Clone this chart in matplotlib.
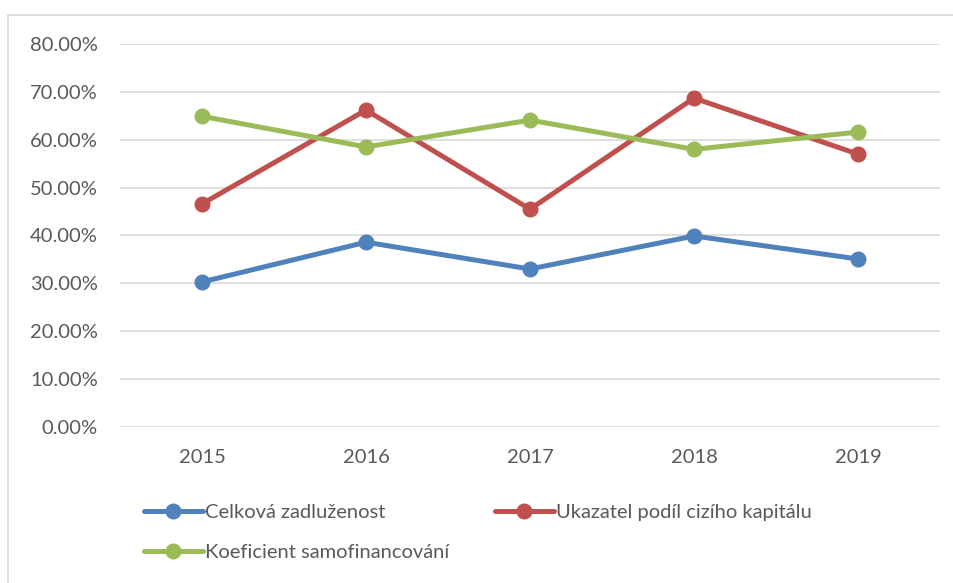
## Libraries
import numpy as np
import matplotlib.pyplot as plt
from matplotlib.patches import Rectangle
from matplotlib.ticker import FuncFormatter

## Data
years = ['2015', '2016', '2017', '2018', '2019']
celkova = [30.3, 38.6, 33.0, 39.9, 35.1]      # Celková zadluženost (%)
ukazatel = [46.6, 66.2, 45.5, 68.7, 57.0]     # Ukazatel podíl cizího kapitálu (%)
koeficient = [64.9, 58.5, 64.1, 58.0, 61.6]   # Koeficient samofinancování (%)

## Figure
plt.rcParams['font.family'] = ['Lato', 'DejaVu Sans']
txt = '#595959'
grid = '#d9d9d9'

fig = plt.figure(figsize=(9.54, 5.83), dpi=100)
ax = fig.add_axes([120/954, 1-427/583, 820/954, (427-44)/583])

# outer chart border
fig.patches.append(Rectangle((8/954, -0.1), 1.2, 1-15/583+0.1, transform=fig.transFigure,
                             fill=False, edgecolor=grid, linewidth=1.2))

x = np.arange(len(years))
l1, = ax.plot(x, celkova, color='#4f81bd', lw=3.6, marker='o', ms=10.5, solid_capstyle='round')
l2, = ax.plot(x, ukazatel, color='#c0504d', lw=3.6, marker='o', ms=10.5, solid_capstyle='round')
l3, = ax.plot(x, koeficient, color='#9bbb59', lw=3.6, marker='o', ms=10.5, solid_capstyle='round')

ax.set_xlim(-0.5, 4.5)
ax.set_ylim(0, 80)
ax.set_yticks(np.arange(0, 81, 10))
ax.yaxis.set_major_formatter(FuncFormatter(lambda v, p: f'{v:.2f}%'))
ax.set_xticks(x)
ax.set_xticklabels(years)
ax.tick_params(length=0, labelsize=14.5, colors=txt)
ax.tick_params(axis='y', pad=16)
ax.tick_params(axis='x', pad=16)
ax.grid(axis='y', color=grid, lw=1.2)
ax.set_axisbelow(True)
for s in ax.spines.values():
    s.set_visible(False)

leg = fig.legend([l1, l3, l2], ['Celková zadluženost', 'Koeficient samofinancování',
                                'Ukazatel podíl cizího kapitálu'],
                 ncol=2, loc='upper left', bbox_to_anchor=(126/954, 1-486/583),
                 frameon=False, fontsize=14.5, labelcolor=txt, handlelength=2.9,
                 handletextpad=0.1, columnspacing=2.3, labelspacing=1.15)

fig.savefig('out.png', dpi=100)
